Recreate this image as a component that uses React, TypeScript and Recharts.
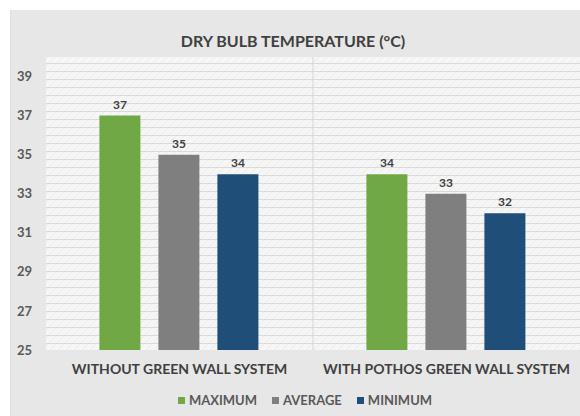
import { Bar, BarChart, CartesianGrid, LabelList, ReferenceArea, XAxis, YAxis } from "recharts";

const categories = ["WITHOUT  GREEN WALL SYSTEM", "WITH POTHOS GREEN WALL SYSTEM"];
const maximum = [37, 34];
const average = [35, 33];
const minimum = [34, 32];
const yTicks = [25, 27, 29, 31, 33, 35, 37, 39];

const series = [
  { key: "max", name: "MAXIMUM", color: "#70a845" },
  { key: "avg", name: "AVERAGE", color: "#7f7f7f" },
  { key: "min", name: "MINIMUM", color: "#1f4e79" },
];

const data = categories.map((c, i) => ({
  cat: c,
  max: maximum[i],
  avg: average[i],
  min: minimum[i],
}));

const font = "Lato, 'Open Sans', sans-serif";

function Divider(props: any) {
  const { x, y, height } = props;
  return <line x1={x} y1={y} x2={x} y2={y + height} stroke="#d4d4d4" strokeWidth={1} />;
}

export default function App() {
  return (
    <div style={{ position: "absolute", left: 0, top: 0, width: 580, height: 416, background: "#fff", fontFamily: font }}>
      <svg width={0} height={0} style={{ position: "absolute" }}>
        <defs>
          <pattern id="hatch" width={8} height={8} patternUnits="userSpaceOnUse">
            <rect width={8} height={8} fill="#f6f6f6" />
            <path d="M0,8 L8,0 M-2,2 L2,-2 M6,10 L10,6" stroke="#ebebeb" strokeWidth={1} />
            <line x1={0} y1={7.5} x2={8} y2={7.5} stroke="#dadada" strokeWidth={1} />
          </pattern>
        </defs>
      </svg>
      <div style={{ position: "absolute", left: 10, top: 10, width: 570, height: 406, background: "#e7e7e7", borderLeft: "1px solid #d6e4f2" }} />
      <div style={{ position: "absolute", left: 0, top: 31, width: 586, textAlign: "center", fontSize: 16, fontWeight: 700, color: "#404040" }}>
        DRY BULB TEMPERATURE (°C)
      </div>
      <div style={{ position: "absolute", left: 0, top: 0 }}>
        <BarChart width={580} height={416} data={data} margin={{ top: 57, right: 0, left: 0, bottom: 0 }} barGap={18} barCategoryGap="20%">
          <CartesianGrid horizontal={false} vertical={false} fill="url(#hatch)" />
          <XAxis
            dataKey="cat"
            height={66}
            axisLine={false}
            tickLine={false}
            tickSize={0}
            tickMargin={14}
            interval={0}
            tick={{ fill: "#404040", fontSize: 14, fontWeight: 700, fontFamily: font, style: { whiteSpace: "pre" } }}
          />
          <YAxis
            width={46}
            domain={[25, 40]}
            ticks={yTicks}
            axisLine={false}
            tickLine={false}
            tickSize={0}
            tickMargin={14}
            tick={{ fill: "#595959", fontSize: 13, fontWeight: 700, fontFamily: font }}
          />
          <ReferenceArea x1={categories[1]} x2={categories[1]} shape={<Divider />} ifOverflow="visible" />
          {series.map((s) => (
            <Bar key={s.key} dataKey={s.key} name={s.name} fill={s.color} isAnimationActive={false}>
              <LabelList dataKey={s.key} position="top" offset={7} fill="#404040" fontSize={12} fontWeight={700} fontFamily={font} />
            </Bar>
          ))}
        </BarChart>
      </div>
      <div style={{ position: "absolute", left: 0, top: 392, width: 610, display: "flex", justifyContent: "center", gap: 15, fontSize: 13, fontWeight: 700, color: "#595959" }}>
        {series.map((s) => (
          <div key={s.key} style={{ display: "flex", alignItems: "center" }}>
            <span style={{ display: "inline-block", width: 7, height: 7, background: s.color, marginRight: 4 }} />
            {s.name}
          </div>
        ))}
      </div>
    </div>
  );
}
